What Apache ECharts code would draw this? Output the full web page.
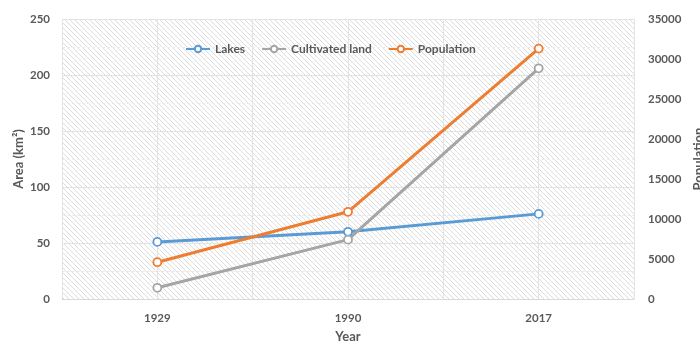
<!DOCTYPE html>
<html>
<head>
<meta charset="utf-8">
<script src="https://cdn.jsdelivr.net/npm/echarts@6/dist/echarts.min.js"></script>
<style>
  html, body { margin: 0; padding: 0; background: #fff; }
  #chart { width: 700px; height: 344px; }
</style>
</head>
<body>
<div id="chart"></div>
<script>
// Years on the horizontal axis
const years = ['1929', '1990', '2017'];
// Areas in km² (left axis)
const lakes = [51, 60, 76];
const cultivatedLand = [10, 53, 206];
// Inhabitants (right axis)
const population = [4600, 10900, 31300];

// Diagonal hatch used as the plot background
function hatchPattern() {
  const s = 5;
  const c = document.createElement('canvas');
  c.width = s; c.height = s;
  const g = c.getContext('2d');
  g.fillStyle = '#ffffff';
  g.fillRect(0, 0, s, s);
  g.strokeStyle = '#dcdcdc';
  g.lineWidth = 1;
  g.beginPath();
  g.moveTo(-1, -1); g.lineTo(s + 1, s + 1);
  g.moveTo(-1, s - 1); g.lineTo(1, s + 1);
  g.moveTo(s - 1, -1); g.lineTo(s + 1, 1);
  g.stroke();
  return { image: c, repeat: 'repeat' };
}

const FONT = 'Lato, "Open Sans", sans-serif';
const textGrey = '#595959';
const gridGrey = '#e3e3e3';

const chart = echarts.init(document.getElementById('chart'), null, { renderer: 'canvas' });

function lineSeries(name, data, color, yIndex) {
  return {
    name, type: 'line', data, yAxisIndex: yIndex, xAxisIndex: 0,
    symbol: 'circle', symbolSize: 8,
    lineStyle: { color, width: 3 },
    itemStyle: { color: '#ffffff', borderColor: color, borderWidth: 1.8 },
    emphasis: { disabled: true },
    z: 3
  };
}

const tickLabel = { fontFamily: FONT, fontWeight: 'bold', fontSize: 11.5, color: textGrey };
const axisTitle = { fontFamily: FONT, fontWeight: 'bold', fontSize: 13, color: textGrey };

chart.setOption({
  animation: false,
  color: ['#5B9BD5', '#A5A5A5', '#ED7D31'],
  grid: {
    left: 62, right: 66, top: 19, bottom: 45,
    containLabel: false,
    outerBoundsMode: 'none',
    show: true, borderWidth: 0,
    backgroundColor: hatchPattern()
  },
  legend: {
    top: 38, left: 180,
    itemWidth: 24, itemHeight: 8, itemGap: 16,
    textStyle: { fontFamily: FONT, fontWeight: 'bold', fontSize: 12, color: textGrey },
    data: ['Lakes', 'Cultivated land', 'Population']
  },
  xAxis: [
    {
      type: 'category', data: years, boundaryGap: true,
      name: 'Year', nameLocation: 'middle', nameGap: 31, nameMoveOverlap: false,
      nameTextStyle: axisTitle,
      axisLine: { lineStyle: { color: '#d9d9d9', width: 1 } },
      axisTick: { show: false },
      axisLabel: Object.assign({ margin: 13 }, tickLabel),
      splitLine: { show: false }
    },
    {
      // half-category grid lines
      type: 'value', min: 0, max: 6, interval: 1, position: 'top',
      axisLine: { show: false }, axisTick: { show: false }, axisLabel: { show: false },
      splitLine: { show: true, lineStyle: { color: gridGrey, width: 1 } }
    }
  ],
  yAxis: [
    {
      type: 'value', min: 0, max: 250, interval: 50,
      name: 'Area (km²)', nameLocation: 'middle', nameGap: 37, nameMoveOverlap: false,
      nameTextStyle: axisTitle,
      axisLine: { show: false }, axisTick: { show: false },
      axisLabel: Object.assign({ margin: 12 }, tickLabel),
      splitLine: { show: true, lineStyle: { color: gridGrey, width: 1 } },
      minorTick: { show: false, splitNumber: 2 },
      minorSplitLine: { show: true, lineStyle: { color: '#ececec', width: 1, type: [3, 2] } }
    },
    {
      type: 'value', min: 0, max: 35000, interval: 5000, position: 'right',
      name: 'Population', nameLocation: 'middle', nameGap: 58, nameRotate: 90, nameMoveOverlap: false,
      nameTextStyle: axisTitle,
      axisLine: { show: false }, axisTick: { show: false },
      axisLabel: Object.assign({ margin: 14, formatter: v => String(v) }, tickLabel),
      splitLine: { show: false }
    }
  ],
  series: [
    lineSeries('Lakes', lakes, '#5B9BD5', 0),
    lineSeries('Cultivated land', cultivatedLand, '#A5A5A5', 0),
    lineSeries('Population', population, '#ED7D31', 1)
  ]
});
</script>
</body>
</html>
